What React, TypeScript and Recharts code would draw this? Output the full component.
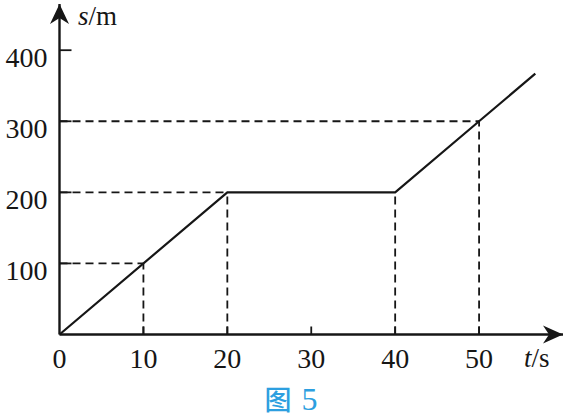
import { LineChart, Line, XAxis, YAxis, ReferenceLine, ReferenceDot, Label } from 'recharts';

const times = [0, 20, 40, 50, 56.7];
const distances = [0, 200, 200, 300, 367];
const guideTimes = [10, 20, 40, 50];
const guideDistances = [100, 200, 200, 300];
const xTicks = [0, 10, 20, 30, 40, 50];
const yTicks = [100, 200, 300, 400];
const xMax = 60;
const yMax = 465;

const lineData = times.map((t, i) => ({ t, s: distances[i] }));

const INK = '#161616';
const SERIF = '"Liberation Serif", "DejaVu Serif", serif';

// x axis area starts at the axis line; labels are drawn below it
function XTick(props: any) {
  const { x, y, payload } = props;
  return (
    <g>
      {payload.value !== 0 && <line x1={x} x2={x} y1={y} y2={y - 8} stroke={INK} strokeWidth={1.8} />}
      <text x={x} y={y + 33.5} textAnchor="middle" fontFamily={SERIF} fontSize={28} fill={INK}>
        {payload.value}
      </text>
    </g>
  );
}

function YTick(props: any) {
  const { x, y, payload } = props;
  return (
    <g>
      <line x1={x + 12} x2={x + 24} y1={y} y2={y} stroke={INK} strokeWidth={1.8} />
      <text x={x} y={y + 17} textAnchor="end" fontFamily={SERIF} fontSize={28} fill={INK}>
        {payload.value}
      </text>
    </g>
  );
}

const xArrow = (p: any) => (
  <path d={`M${p.cx},${p.cy} L${p.cx - 20},${p.cy - 9} L${p.cx - 14},${p.cy} L${p.cx - 20},${p.cy + 9} Z`} fill={INK} />
);
const yArrow = (p: any) => (
  <path d={`M${p.cx},${p.cy} L${p.cx - 9.5},${p.cy + 20} L${p.cx},${p.cy + 14} L${p.cx + 9.5},${p.cy + 20} Z`} fill={INK} />
);

export default function App() {
  return (
    <div style={{ position: 'absolute', left: 0, top: 0, width: 568, height: 419, background: '#fff' }}>
      <LineChart width={568} height={419} data={lineData} margin={{ top: 4, right: 5, bottom: 54.5, left: 0 }}>
        <XAxis
          dataKey="t"
          type="number"
          domain={[0, xMax]}
          ticks={xTicks}
          interval={0}
          height={30}
          tickSize={0}
          tickMargin={0}
          tickLine={false}
          tick={<XTick />}
          axisLine={{ stroke: INK, strokeWidth: 2.4 }}
        >
          <Label
            content={({ viewBox }: any) => (
              <text x={viewBox.x + viewBox.width - 39} y={viewBox.y + 32.5} fontFamily={SERIF} fontSize={27} fill={INK}>
                <tspan fontStyle="italic">t</tspan>/s
              </text>
            )}
          />
          <Label
            content={({ viewBox }: any) => (
              <text x={291} y={viewBox.y + 75} textAnchor="middle" fill="#2d9fe0">
                <tspan fontFamily='"Noto Sans CJK SC", sans-serif' fontSize={27} fontWeight={500}>图</tspan>
                <tspan fontFamily={SERIF} fontSize={32} dx={10}>5</tspan>
              </text>
            )}
          />
        </XAxis>
        <YAxis
          dataKey="s"
          type="number"
          domain={[0, yMax]}
          ticks={yTicks}
          interval={0}
          width={59.5}
          tickSize={0}
          tickMargin={12}
          tickLine={false}
          tick={<YTick />}
          axisLine={{ stroke: INK, strokeWidth: 2.4 }}
        >
          <Label
            content={({ viewBox }: any) => (
              <text x={viewBox.x + viewBox.width + 18.5} y={viewBox.y + 21} fontFamily={SERIF} fontSize={27} fill={INK}>
                <tspan fontStyle="italic">s</tspan>/m
              </text>
            )}
          />
        </YAxis>
        {guideTimes.map((t, i) => (
          <ReferenceLine
            key={`v${i}`}
            segment={[{ x: t, y: 0 }, { x: t, y: guideDistances[i] }]}
            stroke={INK}
            strokeWidth={1.8}
            strokeDasharray="8 5"
          />
        ))}
        {guideTimes.map((t, i) =>
          guideDistances.indexOf(guideDistances[i]) === i ? (
            <ReferenceLine
              key={`h${i}`}
              segment={[{ x: 0, y: guideDistances[i] }, { x: t, y: guideDistances[i] }]}
              stroke={INK}
              strokeWidth={1.8}
              strokeDasharray="8 5"
            />
          ) : null
        )}
        <Line
          type="linear"
          dataKey="s"
          stroke={INK}
          strokeWidth={2.2}
          dot={false}
          activeDot={false}
          isAnimationActive={false}
        />
        <ReferenceDot x={xMax} y={0} r={0} shape={xArrow} />
        <ReferenceDot x={0} y={yMax} r={0} shape={yArrow} />
      </LineChart>
    </div>
  );
}
